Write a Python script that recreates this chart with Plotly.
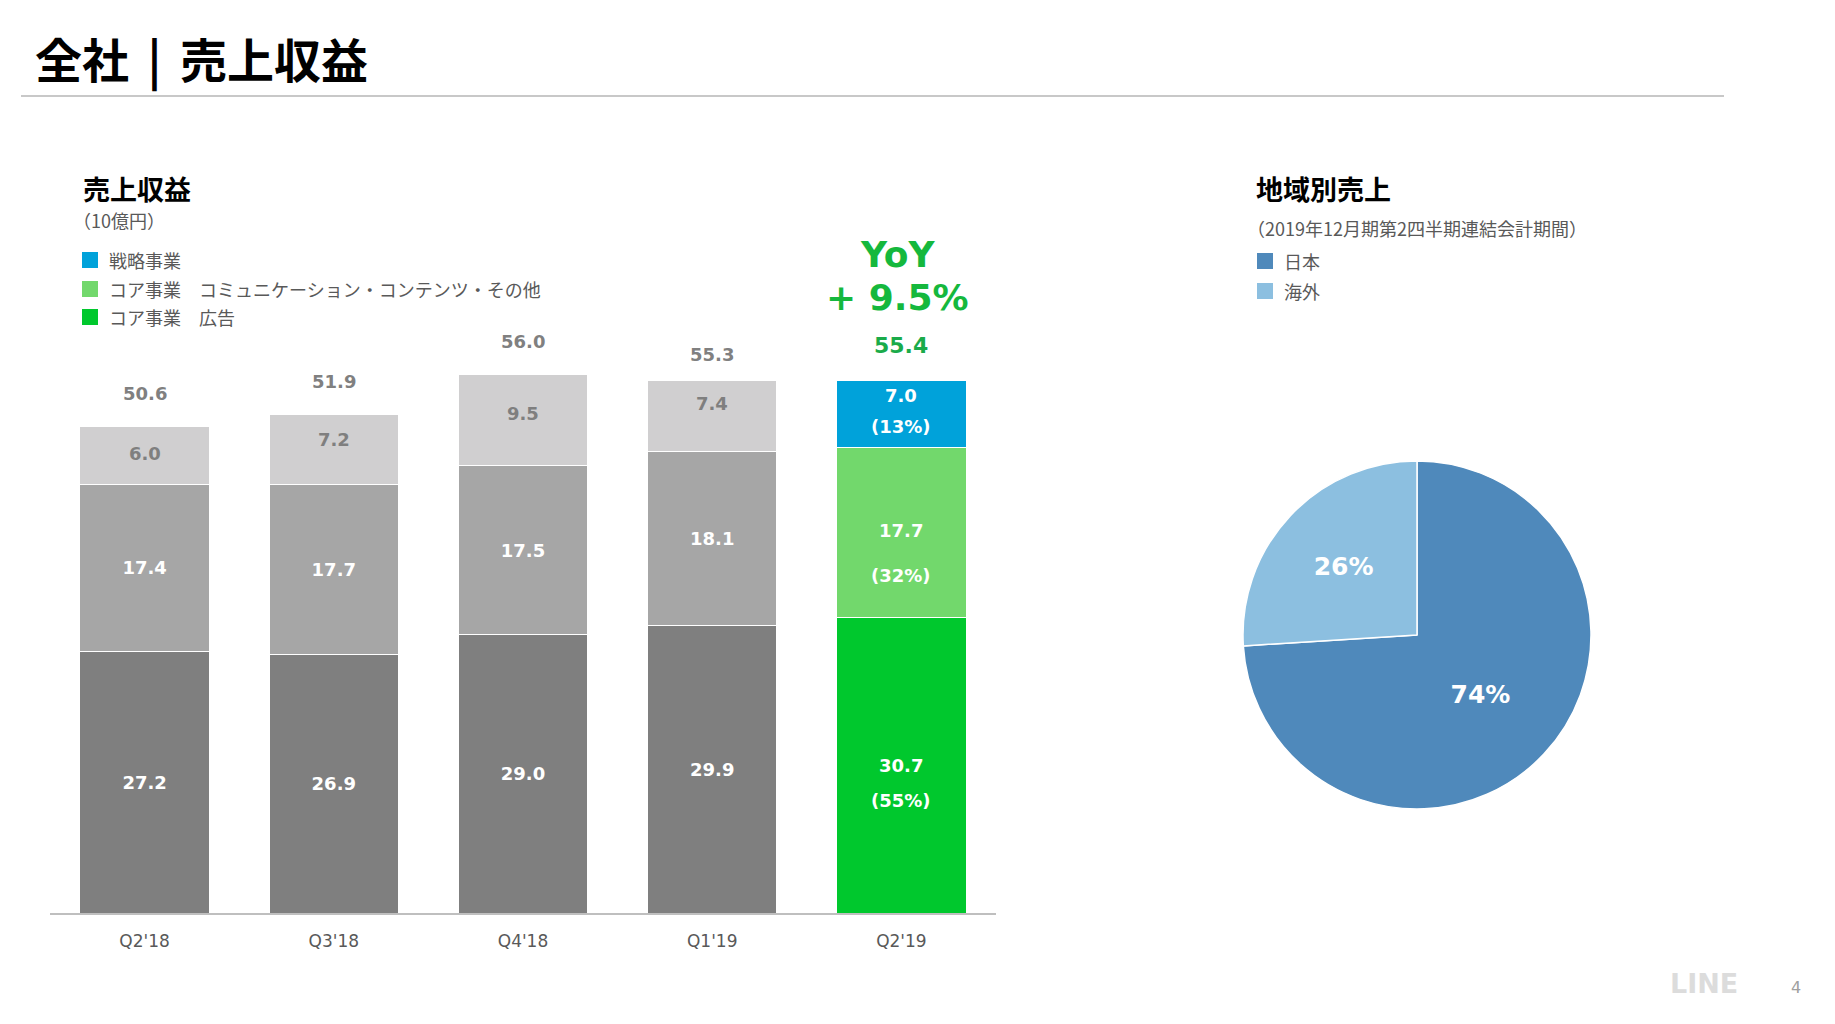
import plotly.graph_objects as go

W, H = 1835, 1024

# ---------------- data ----------------
categories = ["Q2'18", "Q3'18", "Q4'18", "Q1'19", "Q2'19"]
ad_rev = [27.2, 26.9, 29.0, 29.9, 30.7]          # コア事業 広告
comm_rev = [17.4, 17.7, 17.5, 18.1, 17.7]        # コア事業 コミュニケーション・コンテンツ・その他
strat_rev = [6.0, 7.2, 9.5, 7.4, 7.0]            # 戦略事業
totals = [50.6, 51.9, 56.0, 55.3, 55.4]
q2_shares = ["(55%)", "(32%)", "(13%)"]          # ad, comm, strat for Q2'19
yoy_lines = ["YoY", "+ 9.5%"]

region_labels = ["日本", "海外"]
region_values = [74, 26]

legend_bar = ["戦略事業", "コア事業　コミュニケーション・コンテンツ・その他", "コア事業　広告"]

# ---------------- styles ----------------
FONT = "DejaVu Sans, Noto Sans CJK JP, sans-serif"
JFONT = "Noto Sans CJK JP, DejaVu Sans, sans-serif"
GRAY_TXT = "#595959"
C_AD_G, C_COMM_G, C_STRAT_G = "#7f7f7f", "#a6a6a6", "#d0cfd0"
C_AD, C_COMM, C_STRAT = "#00c82d", "#72d86c", "#00a2da"
C_JP, C_OS = "#4f89bb", "#8cbfe0"
GREEN_TXT = "#15b83d"
# label pixel offsets (styling only)
q2_label_shifts = [(0, -35), (2, -43), (19, -12)]   # (value, share) per segment
top_label_shifts = [2, 10, 7, 12]
total_shifts = [33, 33, 33, 26, 35]

def px(x):
    return x / W

def py(y):
    return 1 - y / H

fig = go.Figure()

n_old = len(categories) - 1
seg_specs = [
    (ad_rev, C_AD_G, C_AD, True, legend_bar[2]),
    (comm_rev, C_COMM_G, C_COMM, True, legend_bar[1]),
    (strat_rev, C_STRAT_G, C_STRAT, False, legend_bar[0]),
]
for vals, gcol, ccol, intext, name in seg_specs:
    fig.add_trace(go.Bar(
        x=categories[:n_old], y=vals[:n_old],
        marker=dict(color=gcol, line=dict(color="white", width=1)),
        text=[f"{v:.1f}" for v in vals[:n_old]] if intext else None,
        textposition="inside", insidetextanchor="middle", textangle=0,
        textfont=dict(family=FONT, size=18, color="white", weight="bold"),
        constraintext="none", showlegend=False, hoverinfo="skip",
    ))
    fig.add_trace(go.Bar(
        x=categories[n_old:], y=vals[n_old:],
        marker=dict(color=ccol, line=dict(color="white", width=1)),
        name=name, showlegend=False, hoverinfo="skip",
    ))

# light-gray segment labels
for i in range(n_old):
    base = ad_rev[i] + comm_rev[i]
    fig.add_annotation(x=categories[i], y=base + strat_rev[i] / 2, xref="x", yref="y",
                       text=f"{strat_rev[i]:.1f}", showarrow=False,
                       yshift=top_label_shifts[i], yanchor="middle",
                       font=dict(family=FONT, size=18, color=C_AD_G, weight="bold"))

# Q2'19 segment labels (value + share)
base = 0.0
for vals, share, (s_v, s_p) in zip([ad_rev, comm_rev, strat_rev], q2_shares, q2_label_shifts):
    v = vals[-1]
    mid = base + v / 2
    fig.add_annotation(x=categories[-1], y=mid, xref="x", yref="y", text=f"{v:.1f}",
                       showarrow=False, yshift=s_v, yanchor="middle",
                       font=dict(family=FONT, size=18, color="white", weight="bold"))
    fig.add_annotation(x=categories[-1], y=mid, xref="x", yref="y", text=share,
                       showarrow=False, yshift=s_p, yanchor="middle",
                       font=dict(family=FONT, size=18, color="white", weight="bold"))
    base += v

# totals above bars
for i, (c, t) in enumerate(zip(categories, totals)):
    stack_top = ad_rev[i] + comm_rev[i] + strat_rev[i]
    last = i == len(categories) - 1
    fig.add_annotation(x=c, y=stack_top, xref="x", yref="y", text=f"{t:.1f}",
                       showarrow=False, yshift=total_shifts[i], yanchor="middle",
                       font=dict(family=FONT, size=22 if last else 18,
                                 color="#1aab4a" if last else "#808080", weight="bold"))

# YoY
top_last = ad_rev[-1] + comm_rev[-1] + strat_rev[-1]
for txt, ys in zip(yoy_lines, [126, 83]):
    fig.add_annotation(x=categories[-1], y=top_last, xref="x", yref="y", text=txt,
                       showarrow=False, yshift=ys, xshift=-4, yanchor="middle", align="center",
                       font=dict(family=FONT, size=36, color=GREEN_TXT, weight="bold"))

# Pie
cx, cy, r = 1417, 635, 174
fig.add_trace(go.Pie(
    labels=region_labels, values=region_values, sort=False, direction="clockwise",
    rotation=0, marker=dict(colors=[C_JP, C_OS], line=dict(color="white", width=1.5)),
    texttemplate="%{percent:.0%}", textposition="inside", insidetextorientation="horizontal",
    textfont=dict(family=FONT, size=25, color="white", weight="bold"),
    domain=dict(x=[px(cx - r), px(cx + r)], y=[py(cy + r), py(cy - r)]),
    showlegend=False, hoverinfo="skip",
))

shapes = []
annos = []
# title & underline
annos.append(dict(x=px(33), y=py(57), xref="paper", yref="paper",
                  text="全社\u2004\u200a|\u2004\u200a売上収益",
                  showarrow=False, xanchor="left", yanchor="middle",
                  font=dict(family=JFONT, size=47, color="black", weight="bold")))
shapes.append(dict(type="line", xref="paper", yref="paper", x0=px(21), x1=px(1724),
                   y0=py(96), y1=py(96), line=dict(color="#c8c8c8", width=2)))

# bar chart headings
annos.append(dict(x=px(81), y=py(188), xref="paper", yref="paper", text="売上収益",
                  showarrow=False, xanchor="left", yanchor="middle",
                  font=dict(family=JFONT, size=27, color="black", weight="bold")))
annos.append(dict(x=px(71), y=py(220), xref="paper", yref="paper", text="（10億円）",
                  showarrow=False, xanchor="left", yanchor="middle",
                  font=dict(family=JFONT, size=18, color=GRAY_TXT)))
for txt, col, yy in zip(legend_bar, [C_STRAT, C_COMM, C_AD], [260, 289, 317]):
    shapes.append(dict(type="rect", xref="paper", yref="paper", x0=px(82), x1=px(98),
                       y0=py(yy + 8), y1=py(yy - 8), fillcolor=col, line=dict(width=0)))
    annos.append(dict(x=px(107), y=py(yy), xref="paper", yref="paper", text=txt,
                      showarrow=False, xanchor="left", yanchor="middle",
                      font=dict(family=JFONT, size=18, color=GRAY_TXT)))

# pie headings
annos.append(dict(x=px(1254), y=py(188), xref="paper", yref="paper", text="地域別売上",
                  showarrow=False, xanchor="left", yanchor="middle",
                  font=dict(family=JFONT, size=27, color="black", weight="bold")))
annos.append(dict(x=px(1245), y=py(228), xref="paper", yref="paper",
                  text="（2019年12月期第2四半期連結会計期間）",
                  showarrow=False, xanchor="left", yanchor="middle",
                  font=dict(family=JFONT, size=18, color=GRAY_TXT)))
for txt, col, yy in zip(region_labels, [C_JP, C_OS], [261, 291]):
    shapes.append(dict(type="rect", xref="paper", yref="paper", x0=px(1257), x1=px(1273),
                       y0=py(yy + 8), y1=py(yy - 8), fillcolor=col, line=dict(width=0)))
    annos.append(dict(x=px(1282), y=py(yy), xref="paper", yref="paper", text=txt,
                      showarrow=False, xanchor="left", yanchor="middle",
                      font=dict(family=JFONT, size=18, color=GRAY_TXT)))

# footer
annos.append(dict(x=px(1704), y=py(983), xref="paper", yref="paper", text="LINE",
                  showarrow=False, xanchor="center", yanchor="middle",
                  font=dict(family=FONT, size=27, color="#dcdcdc", weight="bold")))
annos.append(dict(x=px(1796), y=py(987), xref="paper", yref="paper", text="4",
                  showarrow=False, xanchor="center", yanchor="middle",
                  font=dict(family=FONT, size=16, color="#a0a0a0")))

for a in annos:
    fig.add_annotation(**a)

fig.update_layout(
    width=W, height=H, autosize=False,
    margin=dict(l=0, r=0, t=0, b=0),
    paper_bgcolor="white", plot_bgcolor="white",
    barmode="stack", bargap=0.317,
    shapes=shapes,
    xaxis=dict(domain=[px(50), px(996)], range=[-0.5, 4.5], showgrid=False, zeroline=False,
               showline=True, linecolor="#bfbfbf", linewidth=2, ticks="",
               ticklabelstandoff=12, tickfont=dict(family=FONT, size=17, color=GRAY_TXT),
               fixedrange=True),
    yaxis=dict(domain=[py(913), py(240)], range=[0, 70], visible=False, fixedrange=True),
    showlegend=False,
)

fig.write_html("out.html", config={"displayModeBar": False},
               post_script="document.body.style.margin='0';")
